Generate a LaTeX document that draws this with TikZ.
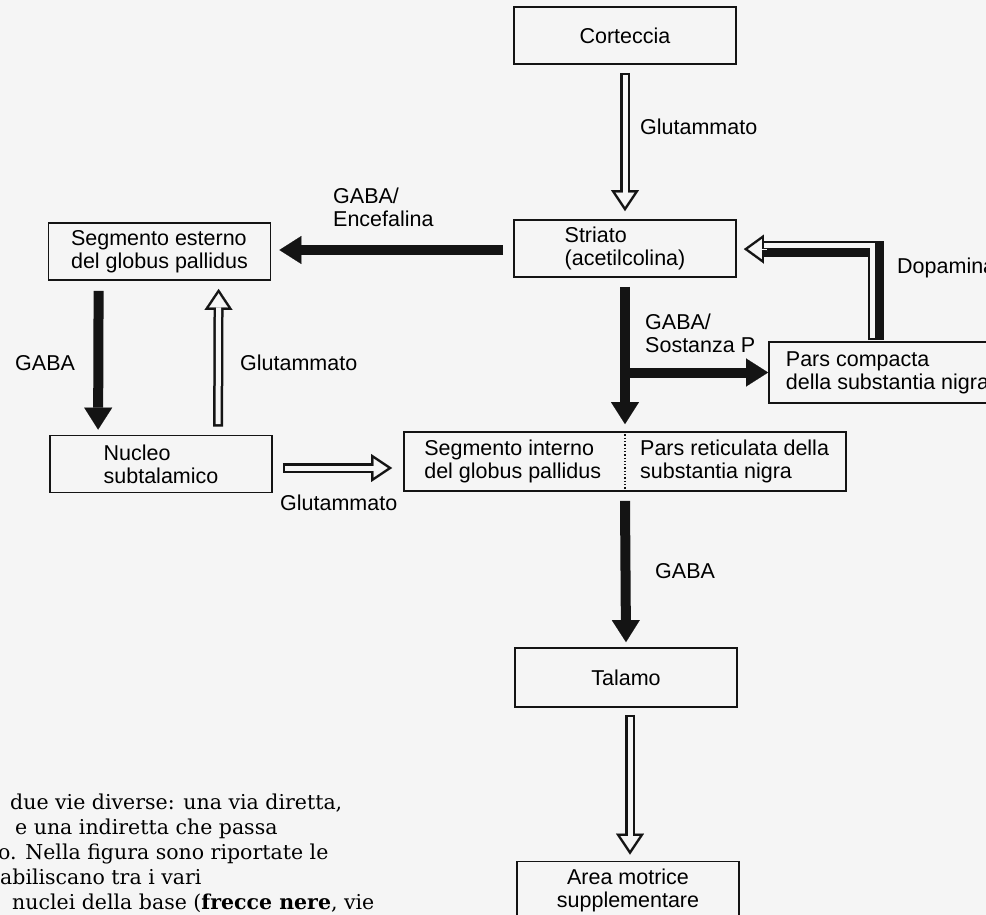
\documentclass[tikz,border=0pt]{standalone}
\usepackage{fontspec}
\setmainfont{Liberation Sans}
\newfontfamily\bookfont{DejaVu Serif}
\usetikzlibrary{arrows.meta,calc}
\definecolor{scanpaper}{gray}{0.96}
\definecolor{scanink}{gray}{0.08}
\newcommand\hollowarrow[2]{%
  \draw[scanink,line width=10pt,-{Triangle[length=21pt,width=28pt,line width=0.1pt]}] #1 -- #2;
  \draw[scanpaper,line width=5pt,shorten <=2.5pt,shorten >=4.5pt,-{Triangle[length=14pt,width=18.7pt,line width=0.1pt]}] #1 -- #2;}

\begin{document}
\begin{tikzpicture}[x=1pt,y=-1pt,font=\fontsize{21.5}{23}\selectfont,
  box/.style={draw=scanink,line width=1.8pt,minimum width=222pt,minimum height=57pt,align=left,inner sep=0pt},
  lbl/.style={anchor=west,inner sep=0pt,align=left},
  inh/.style={draw=scanink,line width=10pt,-{Triangle[length=22pt,width=28pt,line width=0.1pt]}}]
  \fill[scanpaper] (0,0) rectangle (986,915);
  \useasboundingbox (0,0) rectangle (986,915);

  \node[box] (cort) at (625,35.5) {Corteccia};
  \node[box] (stri) at (625,248.5) {Striato\\(acetilcolina)};
  \node[box] (ext) at (159.5,251.5) {Segmento esterno\\del globus pallidus};
  \node[box] (nuc) at (161,464) {Nucleo\\subtalamico};
  \node[box,minimum width=442pt,minimum height=59pt] (int) at (625,461.5) {};
  \draw[scanink,dotted,line width=1.3pt] (int.north) -- (int.south);
  \node[lbl] (gpi) at ($(int.west)+(21,0)$) {Segmento interno\\del globus pallidus};
  \node[lbl] (snr) at ($(int.center)+(15,0)$) {Pars reticulata della\\substantia nigra};
  \node[box,minimum width=237pt,minimum height=61pt] (pc) at (887.5,372.5) {Pars compacta\\della substantia nigra};
  \node[box,minimum height=59pt] (tal) at (626,677.5) {Talamo};
  \node[box,align=center] (area) at (628,890) {Area motrice\\supplementare};

  \hollowarrow{($(cort.south)+(0,8)$)}{($(stri.north)+(0,-8)$)}
  \node[lbl] (glutc) at (640,127) {Glutammato};

  \draw[inh] ($(stri.west)+(-10,1.5)$) -- ($(ext.east |- stri.west)+(8,1.5)$);
  \node[lbl] (gabae) at (333,207) {GABA/\\Encefalina};

  \draw[inh] ($(stri.south)+(0,9)$) -- ($(int.north)+(0,-7)$);
  \draw[inh] (stri.south |- pc.west) -- (pc.west);
  \node[lbl] (gabas) at (645,333) {GABA/\\Sostanza P};

  \coordinate (dbend) at ($(pc.north west)+(108,-92)$);
  \coordinate (wbend) at ($(dbend)+(-3.5,-3.5)$);
  \draw[scanink,line width=16pt,line join=miter,-{Triangle[length=20pt,width=29pt,line width=0.1pt]}]
    ($(pc.north -| dbend)+(0,-1)$) -- (dbend) -- ($(stri.east |- dbend)+(7,0)$);
  \draw[scanpaper,line width=5pt,line join=miter]
    ($(pc.north -| wbend)+(0,-3)$) -- (wbend) -- ($(stri.east |- wbend)+(27,0)$);
  \draw[scanpaper,line width=0.1pt,-{Triangle[length=13.8pt,width=20pt,line width=0.1pt]}]
    ($(stri.east |- dbend)+(30,0)$) -- ($(stri.east |- dbend)+(11.2,0)$);
  \node[lbl] (dopa) at (897,268) {Dopamina};

  \draw[inh] ($(ext.south west)+(51,10)$) -- ($(nuc.north west)+(49,-5)$);
  \node[lbl] (gabag) at (15,363) {GABA};
  \hollowarrow{($(nuc.north west)+(169,-8)$)}{($(ext.south west)+(171,8)$)}
  \node[lbl] (glutn) at (240,363) {Glutammato};

  \hollowarrow{($(nuc.east)+(10,4)$)}{($(int.west |- nuc.east)+(-11,4)$)}
  \node[lbl] (glutg) at (280,503) {Glutammato};

  \draw[inh] ($(int.south)+(0,9)$) -- ($(tal.north)+(0,-5)$);
  \node[lbl] (gabat) at (655,571) {GABA};

  \hollowarrow{($(tal.south)+(4,7)$)}{($(area.north)+(2,-6)$)}

  \node[anchor=north west,inner sep=0pt,align=left,font=\bookfont\fontsize{20.5}{25}\selectfont] (caption) at (-2,794)
    {\hspace*{12pt}due vie diverse: una via diretta,\\
     \hspace*{17pt}e una indiretta che passa\\
     o. Nella figura sono riportate le\\
     \hspace*{2pt}abiliscano tra i vari\\
     \hspace*{14pt}nuclei della base (\textbf{frecce nere}, vie};
\end{tikzpicture}
\end{document}
